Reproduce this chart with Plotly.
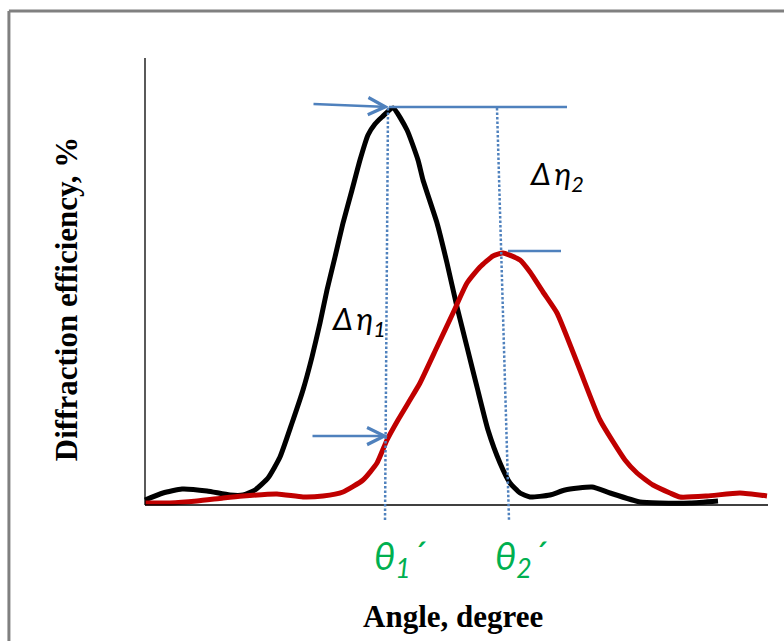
import plotly.graph_objects as go

# ---- data (angle in degrees, efficiency in %) ----
black_angle = [0, 0.9, 1.85, 3.1, 4.25, 4.9, 5.5, 6.15, 6.75, 7.35, 7.9, 8.35, 8.75, 9.1, 9.5,
               9.9, 10.35, 10.75, 11.15, 11.5, 11.85, 12.4, 13.1, 13.65, 13.9, 14.6, 15.1, 15.6,
               16.1, 16.6, 17.15, 17.75, 18.25, 18.75, 19.25, 20.25, 21.0, 22.35, 23.25, 24.75,
               25.75, 27.25, 28.65]
black_eff = [1.0, 2.4, 3.2, 2.8, 2.0, 2.0, 3.0, 5.4, 9.6, 16.4, 23.0, 29.6, 36.4, 43.0, 49.6,
             56.4, 63.0, 69.0, 74.0, 76.2, 77.6, 79.4, 75.0, 69.0, 65.0, 56.4, 48.4, 39.6,
             31.6, 23.6, 15.0, 8.4, 4.4, 2.4, 1.6, 2.0, 3.0, 3.6, 2.4, 0.6,
             0.4, 0.4, 0.8]

red_angle = [0, 1.25, 2.6, 3.9, 4.9, 6.6, 7.9, 8.9, 9.9, 10.9, 11.6, 12.1, 12.65, 13.25, 13.75,
             14.6, 15.4, 16.1, 16.75, 17.4, 17.9, 18.75, 19.25, 19.9, 20.6, 21.1, 21.75, 22.75,
             24.0, 24.6, 25.4, 26.25, 26.75, 28.1, 29.75, 31.1]
red_eff = [0.4, 0.4, 0.8, 1.4, 1.8, 2.2, 1.6, 1.8, 2.6, 5.0, 8.4, 13.0, 17.0, 21.0, 24.4,
           31.6, 38.4, 44.4, 47.6, 49.8, 50.4, 49.0, 46.6, 42.6, 38.4, 33.6, 27.0, 17.0,
           9.0, 6.4, 4.0, 2.4, 1.6, 1.8, 2.4, 1.8]

# annotation anchors (angle, efficiency)
theta1_top, theta1_bottom = (12.15, 79.4), (12.0, -3.4)
theta2_top, theta2_bottom = (17.6, 79.4), (18.2, -3.0)
top_arrow_tail, top_arrow_tip = (8.35, 80.2), (12.2, 79.6)
top_level_end = 21.1
low_arrow_tail, low_arrow_tip = (8.3, 13.8), (12.15, 13.8)
red_peak_line = (18.15, 20.8, 50.8)
axis_x_end, axis_y_end = 31.15, 89.4

BLUE = "#4F81BD"
GREEN = "#00B050"
SERIF = "Liberation Serif"
SANS = "Lato"

fig = go.Figure()
fig.add_trace(go.Scatter(x=black_angle, y=black_eff, mode="lines",
                         line=dict(color="black", width=5, shape="spline", smoothing=0.5),
                         showlegend=False, hoverinfo="skip"))
fig.add_trace(go.Scatter(x=red_angle, y=red_eff, mode="lines",
                         line=dict(color="#C00000", width=5, shape="spline", smoothing=0.5),
                         showlegend=False, hoverinfo="skip"))

shapes = []
# axis lines
shapes.append(dict(type="line", xref="x", yref="y", x0=0, y0=0, x1=0, y1=axis_y_end,
                   line=dict(color="black", width=1.3)))
shapes.append(dict(type="line", xref="x", yref="y", x0=0, y0=0, x1=axis_x_end, y1=0,
                   line=dict(color="black", width=1.3)))
# dotted guides
for (t, b) in [(theta1_top, theta1_bottom), (theta2_top, theta2_bottom)]:
    shapes.append(dict(type="line", xref="x", yref="y", x0=t[0], y0=t[1], x1=b[0], y1=b[1],
                       line=dict(color=BLUE, width=2.5, dash="2.5px,2px")))
# horizontal level lines
shapes.append(dict(type="line", xref="x", yref="y", x0=top_arrow_tip[0], y0=top_arrow_tip[1],
                   x1=top_level_end, y1=top_arrow_tip[1], line=dict(color=BLUE, width=2.5)))
shapes.append(dict(type="line", xref="x", yref="y", x0=red_peak_line[0], y0=red_peak_line[2],
                   x1=red_peak_line[1], y1=red_peak_line[2], line=dict(color=BLUE, width=2.5)))
# outer frame (gray, left and top)
shapes.append(dict(type="line", xref="paper", yref="paper", x0=-0.2135, y0=1.0827, x1=1.1, y1=1.0827,
                   line=dict(color="#808080", width=3)))
shapes.append(dict(type="line", xref="paper", yref="paper", x0=-0.2135, y0=1.0827, x1=-0.2135, y1=-0.2,
                   line=dict(color="#808080", width=3)))

annotations = []
for tail, tip in [(top_arrow_tail, top_arrow_tip), (low_arrow_tail, low_arrow_tip)]:
    annotations.append(dict(x=tip[0], y=tip[1], ax=tail[0], ay=tail[1], xref="x", yref="y",
                            axref="x", ayref="y", text="", showarrow=True, arrowhead=5,
                            arrowsize=1.35, arrowwidth=2.5, arrowcolor=BLUE, standoff=0))
annotations.append(dict(x=19.1, y=66, xref="x", yref="y", xanchor="left", yanchor="middle",
                        text="<i>Δ\u2009η<sub>2</sub></i>", showarrow=False,
                        font=dict(family=SANS, size=31, color="black")))
annotations.append(dict(x=9.2, y=37.0, xref="x", yref="y", xanchor="left", yanchor="middle",
                        text="<i>Δ\u2009η<sub>1</sub></i>", showarrow=False,
                        font=dict(family=SANS, size=31, color="black")))
annotations.append(dict(x=12.75, y=-10.6, xref="x", yref="y", xanchor="center", yanchor="middle",
                        text="<i>θ<sub>1</sub>´</i>", showarrow=False,
                        font=dict(family=SANS, size=38, color=GREEN)))
annotations.append(dict(x=18.8, y=-10.6, xref="x", yref="y", xanchor="center", yanchor="middle",
                        text="<i>θ<sub>2</sub>´</i>", showarrow=False,
                        font=dict(family=SANS, size=38, color=GREEN)))
annotations.append(dict(x=0.4936, y=-0.031, xref="paper", yref="paper", xanchor="center",
                        yanchor="middle", text="<b>Angle, degree</b>", showarrow=False,
                        font=dict(family=SERIF, size=31, color="black")))
annotations.append(dict(x=-0.1226, y=0.553, xref="paper", yref="paper", xanchor="center",
                        yanchor="middle", text="<b>Diffraction efficiency, %</b>", textangle=-90,
                        showarrow=False, font=dict(family=SERIF, size=31, color="black")))

fig.update_layout(
    width=784, height=641,
    margin=dict(l=143, r=13, t=56, b=41),
    paper_bgcolor="white", plot_bgcolor="white",
    xaxis=dict(range=[-0.1, 31.3], showgrid=False, zeroline=False, showticklabels=False,
               ticks="", showline=False),
    yaxis=dict(range=[-19, 89.8], showgrid=False, zeroline=False, showticklabels=False,
               ticks="", showline=False),
    shapes=shapes, annotations=annotations,
)

fig.write_html("out.html")
